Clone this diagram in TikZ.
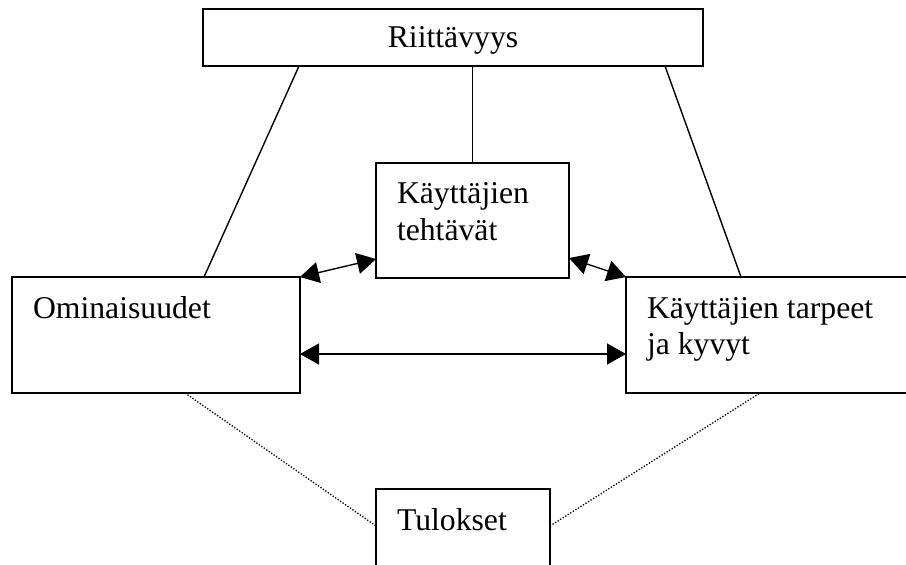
\documentclass[tikz,border=0pt]{standalone}
\usepackage{fontspec}
\setmainfont{Liberation Serif}
\usetikzlibrary{arrows.meta}
\tikzset{
  box/.style={draw, line width=1.4pt, rectangle, inner sep=0pt, outer sep=0pt, anchor=north west},
  txt/.style={inner sep=0pt, outer sep=0pt, font=\fontsize{31.7}{36}\selectfont},
  link/.style={line width=1.4pt},
  dbl/.style={line width=1.4pt, {Triangle[length=19pt,width=21pt]}-{Triangle[length=19pt,width=21pt]}},
  dots/.style={line width=1.3pt, dash pattern=on 1.3pt off 1.7pt},
}
\begin{document}
\begin{tikzpicture}[x=1pt, y=-1pt]
\useasboundingbox (0,0) rectangle (906,565);
\clip (0,0) rectangle (906,565);

% boxes
\node[box, minimum width=500pt, minimum height=57pt] (R) at (203,9) {};
\node[box, minimum width=193pt, minimum height=115pt] (T) at (376,163) {};
\node[box, minimum width=288pt, minimum height=116pt] (O) at (12,277) {};
\node[box, minimum width=300pt, minimum height=116pt] (K) at (626,277) {};
\node[box, minimum width=174pt, minimum height=110pt] (U) at (376,489) {};

% labels
\node[txt, anchor=base] (Rt) at (453,47) {Riittävyys};
\node[txt, anchor=base west] (Tt1) at (397,203) {Käyttäjien};
\node[txt, anchor=base west] (Tt2) at (397,240) {tehtävät};
\node[txt, anchor=base west] (Ot) at (33,318) {Ominaisuudet};
\node[txt, anchor=base west] (Kt1) at (647,318) {Käyttäjien tarpeet};
\node[txt, anchor=base west] (Kt2) at (647,354) {ja kyvyt};
\node[txt, anchor=base west] (Ut) at (397,530) {Tulokset};

% solid links from the top box
\draw[link] ([xshift=96pt]R.south west) -- ([xshift=192pt]O.north west);
\draw[link] (T.north |- R.south) -- (T.north);
\draw[link] ([xshift=-38pt]R.south east) -- ([xshift=115pt]K.north west);

% two-way arrows
\draw[dbl] (O.north east) -- ([yshift=19pt]T.south west);
\draw[dbl] ([yshift=20pt]T.south east) -- (K.north west);
\draw[dbl] ([yshift=-19pt]O.east) -- ([yshift=-19pt]O.east -| K.west);

% dotted links to the results box
\draw[dots] ([xshift=173pt]O.south west) -- ([yshift=-37pt]U.north west);
\draw[dots] ([yshift=-37pt]U.north east) -- ([xshift=134pt]K.south west);
\end{tikzpicture}
\end{document}
